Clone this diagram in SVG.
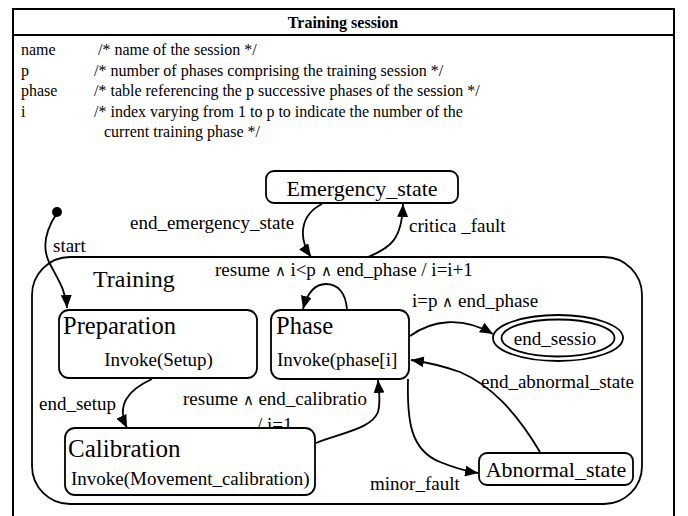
<svg xmlns="http://www.w3.org/2000/svg" width="688" height="516" viewBox="0 0 688 516">
<defs>
<marker id="ah" viewBox="0 0 13 11" refX="13" refY="5.5" markerWidth="13" markerHeight="11" markerUnits="userSpaceOnUse" orient="auto">
<path d="M0,0 L13,5.5 L0,11 z" fill="#000"/>
</marker>
</defs>
<rect width="688" height="516" fill="#fff"/>
<g id="frame">
<path d="M13,520 V9 H674 V520" fill="none" stroke="#000" stroke-width="2"/>
<line x1="13" y1="35" x2="674" y2="35" stroke="#000" stroke-width="2"/>
<text font-family="Liberation Serif" font-size="16" font-weight="bold" x="343" y="28" text-anchor="middle">Training session</text>
<text font-family="Liberation Serif" font-size="16" x="21" y="55">name</text>
<text font-family="Liberation Serif" font-size="16" x="98" y="55">/* name of the session */</text>
<text font-family="Liberation Serif" font-size="16" x="21" y="76">p</text>
<text font-family="Liberation Serif" font-size="16" x="94" y="76">/* number of phases comprising the training session */</text>
<text font-family="Liberation Serif" font-size="16" x="21" y="96">phase</text>
<text font-family="Liberation Serif" font-size="16" x="94" y="96">/* table referencing the p successive  phases of the session */</text>
<text font-family="Liberation Serif" font-size="16" x="21" y="117">i</text>
<text font-family="Liberation Serif" font-size="16" x="94" y="117">/* index varying from 1 to p to indicate the number of the</text>
<text font-family="Liberation Serif" font-size="16" x="104" y="137">current training phase */</text>
</g>
<g id="training">
<rect x="32" y="257" width="610" height="247" rx="38" ry="38" fill="#fff" stroke="#000" stroke-width="1.8"/>
<text font-family="Liberation Serif" font-size="24" x="93" y="287">Training</text>
</g>
<g id="connectors" fill="none" stroke="#000" stroke-width="1.8" marker-end="url(#ah)">
<path d="M57,213 C47,228 41,245 49,262 C57,278 66,290 67,308"/>
<path d="M322,204 C300,215 298,238 311,257"/>
<path d="M368,257 C390,248 402,240 403,204"/>
<path d="M347,310 C346,292 337,284 326,284 C314,284 307,294 303,309"/>
<path d="M410,336 C432,320 462,316 493,334"/>
<path d="M540,452 C515,410 490,385 460,372 C440,365 425,362 411,360"/>
<path d="M408,379 C407,420 410,450 440,462 C455,468 465,471 478,473"/>
<path d="M152,379 C128,390 116,405 127,428"/>
<path d="M316,443 C345,432 372,428 378,412 C381,402 379,392 378,380"/>
</g>
<g id="labels" font-family="Liberation Serif" font-size="19">
<text font-family="Liberation Serif" font-size="19" x="53" y="252">start</text>
<text font-family="Liberation Serif" font-size="19" x="130" y="229">end_emergency_state</text>
<text font-family="Liberation Serif" font-size="19" x="409" y="232">critica _fault</text>
<text font-family="Liberation Serif" font-size="19" x="215" y="276">resume <tspan font-size="15">∧</tspan> i&lt;p <tspan font-size="15">∧</tspan> end_phase / i=i+1</text>
<text font-family="Liberation Serif" font-size="19" x="412" y="307">i=p <tspan font-size="15">∧</tspan> end_phase</text>
<text font-family="Liberation Serif" font-size="19" x="481" y="388">end_abnormal_state</text>
<text font-family="Liberation Serif" font-size="19" x="39" y="410">end_setup</text>
<text font-family="Liberation Serif" font-size="19" x="183" y="405">resume <tspan font-size="15">∧</tspan> end_calibratio</text>
<text font-family="Liberation Serif" font-size="19" x="257" y="431">/ i=1</text>
<text font-family="Liberation Serif" font-size="19" x="370" y="490">minor_fault</text>
</g>
<g id="emergency">
<rect x="266" y="171" width="192" height="32" rx="8" fill="#fff" stroke="#000" stroke-width="1.8"/>
<text font-family="Liberation Serif" font-size="22" x="362" y="196" text-anchor="middle">Emergency_state</text>
</g>
<g id="initial">
<circle cx="57" cy="212" r="5" fill="#000"/>
</g>
<g id="preparation">
<rect x="59" y="310" width="198" height="68" rx="10" fill="#fff" stroke="#000" stroke-width="1.8"/>
<text font-family="Liberation Serif" font-size="24.5" x="63" y="334">Preparation</text>
<text font-family="Liberation Serif" font-size="19" x="158.5" y="366" text-anchor="middle">Invoke(Setup)</text>
</g>
<g id="phase">
<rect x="271" y="310" width="138" height="69" rx="10" fill="#fff" stroke="#000" stroke-width="1.8"/>
<text font-family="Liberation Serif" font-size="24.5" x="276" y="334">Phase</text>
<text font-family="Liberation Serif" font-size="19" x="277" y="366">Invoke(phase[i]</text>
</g>
<g id="end_session">
<ellipse cx="558" cy="338" rx="65" ry="23" fill="#fff" stroke="#000" stroke-width="1.8"/>
<ellipse cx="558" cy="338" rx="56.5" ry="18.5" fill="none" stroke="#000" stroke-width="1.8"/>
<text font-family="Liberation Serif" font-size="19" x="555" y="345" text-anchor="middle">end_sessio</text>
</g>
<g id="calibration">
<rect x="65" y="428" width="250" height="67" rx="10" fill="#fff" stroke="#000" stroke-width="1.8"/>
<text font-family="Liberation Serif" font-size="25" x="68" y="457">Calibration</text>
<text font-family="Liberation Serif" font-size="19" x="71" y="485">Invoke(Movement_calibration)</text>
</g>
<g id="abnormal">
<rect x="479" y="453" width="154" height="32" rx="8" fill="#fff" stroke="#000" stroke-width="1.8"/>
<text font-family="Liberation Serif" font-size="22" x="556" y="477" text-anchor="middle">Abnormal_state</text>
</g>
</svg>
